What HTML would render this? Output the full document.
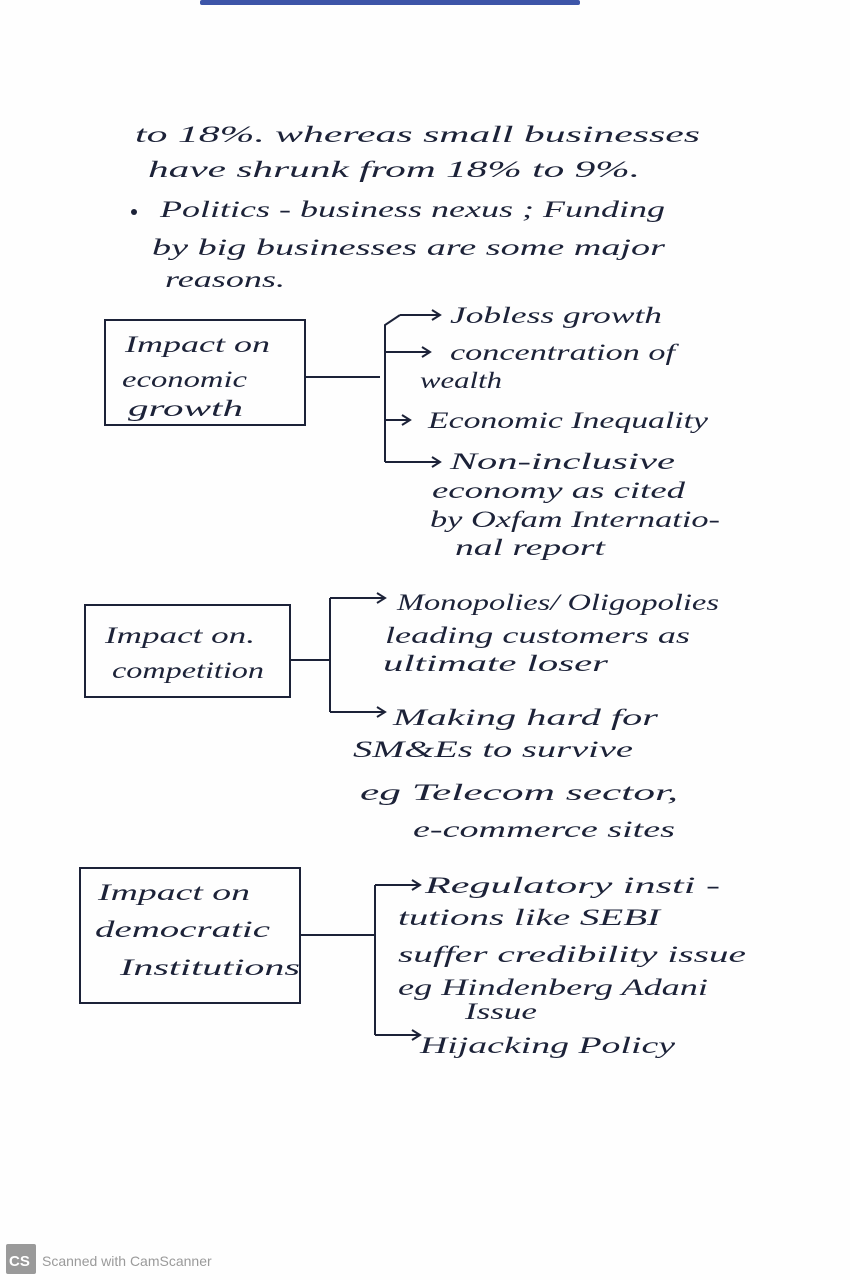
<!DOCTYPE html>
<html><head><meta charset="utf-8"><style>
html,body{margin:0;padding:0;background:#fff;}
svg{display:block}
text{font-family:"Liberation Serif",serif;font-style:italic;fill:#1c2238;font-size:23px;}
.l{stroke:#1c2238;stroke-width:2;fill:none}
</style></head><body>
<svg width="850" height="1280" viewBox="0 0 850 1280" xmlns="http://www.w3.org/2000/svg">
<rect x="0" y="0" width="850" height="1280" fill="#fefefe"/>
<rect x="200" y="0" width="380" height="5" rx="2" fill="#3d55a8"/>
<g>
<text x="135" y="142" textLength="565" lengthAdjust="spacingAndGlyphs">to 18%.  whereas  small  businesses</text>
<text x="148" y="177" textLength="492" lengthAdjust="spacingAndGlyphs">have  shrunk  from 18% to 9%.</text>
<circle cx="134" cy="212" r="3" fill="#1c2238"/>
<text x="160" y="217" textLength="505" lengthAdjust="spacingAndGlyphs">Politics - business nexus ; Funding</text>
<text x="152" y="255" textLength="513" lengthAdjust="spacingAndGlyphs">by big businesses are some major</text>
<text x="165" y="287" textLength="120" lengthAdjust="spacingAndGlyphs">reasons.</text>

<path class="l" d="M105 320 H305 V425 H105 Z"/>
<text x="125" y="352" textLength="145" lengthAdjust="spacingAndGlyphs">Impact on</text>
<text x="122" y="387" textLength="125" lengthAdjust="spacingAndGlyphs">economic</text>
<text x="128" y="416" textLength="115" lengthAdjust="spacingAndGlyphs">growth</text>
<path class="l" d="M305 377 H380 M400 315 L385 325 V462 M385 352 H430 M385 420 H410 M385 462 H440 M400 315 H440"/>
<path class="l" d="M432 310 L440 315 L432 320 M422 347 L430 352 L422 357 M402 415 L410 420 L402 425 M432 457 L440 462 L432 467"/>
<text x="450" y="323" textLength="212" lengthAdjust="spacingAndGlyphs">Jobless growth</text>
<text x="450" y="360" textLength="225" lengthAdjust="spacingAndGlyphs">concentration of</text>
<text x="420" y="388" textLength="82" lengthAdjust="spacingAndGlyphs">wealth</text>
<text x="428" y="428" textLength="280" lengthAdjust="spacingAndGlyphs">Economic Inequality</text>
<text x="450" y="469" textLength="225" lengthAdjust="spacingAndGlyphs">Non-inclusive</text>
<text x="432" y="498" textLength="253" lengthAdjust="spacingAndGlyphs">economy as cited</text>
<text x="430" y="527" textLength="290" lengthAdjust="spacingAndGlyphs">by Oxfam Internatio-</text>
<text x="455" y="555" textLength="150" lengthAdjust="spacingAndGlyphs">nal report</text>

<path class="l" d="M85 605 H290 V697 H85 Z"/>
<text x="105" y="643" textLength="150" lengthAdjust="spacingAndGlyphs">Impact on.</text>
<text x="112" y="678" textLength="152" lengthAdjust="spacingAndGlyphs">competition</text>
<path class="l" d="M290 660 H330 M330 598 V712 M330 598 H385 M330 712 H385"/>
<path class="l" d="M377 593 L385 598 L377 603 M377 707 L385 712 L377 717"/>
<text x="397" y="610" textLength="322" lengthAdjust="spacingAndGlyphs">Monopolies/ Oligopolies</text>
<text x="385" y="643" textLength="305" lengthAdjust="spacingAndGlyphs">leading customers as</text>
<text x="383" y="671" textLength="225" lengthAdjust="spacingAndGlyphs">ultimate loser</text>
<text x="393" y="725" textLength="265" lengthAdjust="spacingAndGlyphs">Making hard for</text>
<text x="353" y="757" textLength="280" lengthAdjust="spacingAndGlyphs">SM&amp;Es to survive</text>
<text x="360" y="800" textLength="318" lengthAdjust="spacingAndGlyphs">eg Telecom sector,</text>
<text x="413" y="837" textLength="262" lengthAdjust="spacingAndGlyphs">e-commerce sites</text>

<path class="l" d="M80 868 H300 V1003 H80 Z"/>
<text x="98" y="900" textLength="152" lengthAdjust="spacingAndGlyphs">Impact on</text>
<text x="95" y="937" textLength="175" lengthAdjust="spacingAndGlyphs">democratic</text>
<text x="120" y="975" textLength="180" lengthAdjust="spacingAndGlyphs">Institutions</text>
<path class="l" d="M300 935 H375 M375 885 V1035 M375 885 H420 M375 1035 H420"/>
<path class="l" d="M412 880 L420 885 L412 890 M412 1030 L420 1035 L412 1040"/>
<text x="425" y="893" textLength="295" lengthAdjust="spacingAndGlyphs">Regulatory insti -</text>
<text x="398" y="925" textLength="262" lengthAdjust="spacingAndGlyphs">tutions like SEBI</text>
<text x="398" y="962" textLength="348" lengthAdjust="spacingAndGlyphs">suffer credibility issue</text>
<text x="398" y="995" textLength="310" lengthAdjust="spacingAndGlyphs">eg Hindenberg Adani</text>
<text x="465" y="1019" textLength="72" lengthAdjust="spacingAndGlyphs">Issue</text>
<text x="420" y="1053" textLength="255" lengthAdjust="spacingAndGlyphs">Hijacking Policy</text>
</g>
<rect x="6" y="1244" width="30" height="30" fill="#9a9a9a" rx="2"/>
<text x="9" y="1266" style="font-style:normal;font-family:'Liberation Sans',sans-serif;font-size:15px;fill:#fff;font-weight:bold">CS</text>
<text x="42" y="1266" style="font-style:normal;font-family:'Liberation Sans',sans-serif;font-size:14px;fill:#9a9a9a">Scanned with CamScanner</text>
</svg>
</body></html>
